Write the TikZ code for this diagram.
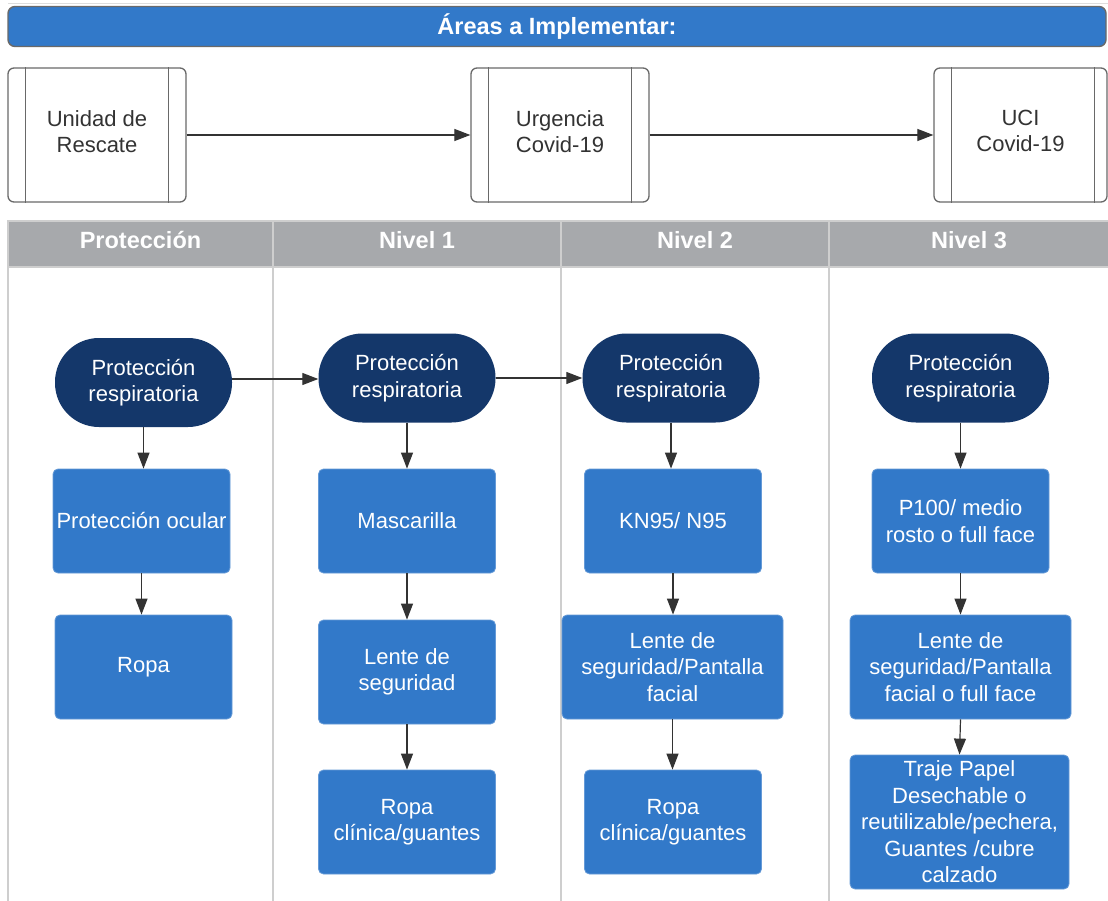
\documentclass[tikz,border=0pt]{standalone}
\usepackage{fontspec}
\setmainfont{Liberation Sans}
\usetikzlibrary{arrows.meta,calc}
\definecolor{boxblue}{RGB}{50,121,201}
\definecolor{navy}{RGB}{20,55,106}
\definecolor{hdrgray}{RGB}{167,169,172}
\definecolor{lanegray}{RGB}{206,206,206}
\definecolor{edgegray}{RGB}{105,105,105}
\definecolor{arrowgray}{RGB}{51,51,51}
\definecolor{proctext}{RGB}{51,51,51}
\begin{document}
\begin{tikzpicture}[x=1pt,y=-1pt,
  body/.style={font=\fontsize{22}{26.5}\selectfont, align=center, text=white},
  bluebox/.style={body, rectangle, rounded corners=5pt, fill=boxblue, draw=boxblue!75!white, line width=0.8pt, minimum width=177pt, minimum height=104pt, inner sep=0pt},
  term/.style={body, rectangle, rounded corners=44pt, fill=navy, minimum width=177pt, minimum height=89pt, inner sep=0pt},
  proc/.style={font=\fontsize{22}{26}\selectfont, align=center, text=proctext, rectangle, rounded corners=6pt, draw=edgegray, line width=1.3pt, minimum width=178pt, minimum height=134pt, inner sep=0pt},
  hdr/.style={font=\bfseries\fontsize{23.5}{28}\selectfont, text=white},
  flow/.style={draw=arrowgray, line width=1.2pt, -{Triangle[length=16pt,width=12pt]}},
  inner/.style={draw=edgegray, line width=1.3pt},
  lane/.style={draw=lanegray, line width=2pt},
]
\fill[white] (0,0) rectangle (1108,901);
\useasboundingbox (0,0) rectangle (1108,901);

% top faint line
\draw[lanegray!70, line width=0.8pt] (8,3) -- (1108,3);

% title bar
\node[rectangle, rounded corners=7pt, fill=boxblue, draw=edgegray, line width=1.4pt,
      minimum width=1098pt, minimum height=40pt, inner sep=0pt,
      font=\bfseries\fontsize{23.5}{28}\selectfont, text=white] (title) at (557,26.5) {Áreas a Implementar:};

% process boxes
\node[proc] (p1) at (97,135) {Unidad de\\Rescate\strut};
\node[proc] (p2) at (560,135) {Urgencia\\Covid-19\strut};
\node[proc, minimum width=173pt] (p3) at (1020.5,135) {UCI\\Covid-19\strut};
\foreach \p in {p1,p2}{
  \draw[inner] ($(\p.north west)+(18,0)$) -- ($(\p.south west)+(18,0)$);
  \draw[inner] ($(\p.north east)+(-18,0)$) -- ($(\p.south east)+(-18,0)$);
}
\draw[inner] ($(p3.north west)+(18,0)$) -- ($(p3.south west)+(18,0)$);
\draw[inner] ($(p3.north east)+(-13,0)$) -- ($(p3.south east)+(-13,0)$);
\draw[flow] (p1.east) -- (p2.west);
\draw[flow] (p2.east) -- (p3.west);

% swimlane table
\fill[hdrgray] (8,221) rectangle (1108,267);
\draw[lane] (7,221) -- (1108,221);
\draw[lane] (7,267) -- (1108,267);
\foreach \x in {8,273,561,829}{
  \draw[lane] (\x,221) -- (\x,901);
}
\node[hdr] (h0) at (140.5,240) {Protección};
\node[hdr] (h1) at (417,240) {Nivel 1};
\node[hdr] (h2) at (695,240) {Nivel 2};
\node[hdr] (h3) at (969,240) {Nivel 3};

% column Protección
\node[term] (t1) at (143.5,382.5) {Protección\\respiratoria};
\node[bluebox] (b11) at (141.5,521) {Protección ocular};
\node[bluebox] (b12) at (143.5,667) {Ropa};

% column Nivel 1
\node[term] (t2) at (407,378) {Protección\\respiratoria};
\node[bluebox] (b21) at (407,521) {Mascarilla};
\node[bluebox] (b22) at (407,672) {Lente de\\seguridad};
\node[bluebox] (b23) at (407,822) {Ropa\\clínica/guantes};

% column Nivel 2
\node[term] (t3) at (671,378) {Protección\\respiratoria};
\node[bluebox] (b31) at (673,521) {KN95/ N95};
\node[bluebox, minimum width=221pt] (b32) at (672.5,667) {Lente de\\seguridad/Pantalla\\facial};
\node[bluebox] (b33) at (673,822) {Ropa\\clínica/guantes};

% column Nivel 3
\node[term] (t4) at (960.5,378) {Protección\\respiratoria};
\node[bluebox] (b41) at (960.5,521) {P100/ medio\\rosto o full face};
\node[bluebox, minimum width=221pt] (b42) at (960.5,667) {Lente de\\seguridad/Pantalla\\facial o full face};
\node[bluebox, minimum width=219pt, minimum height=134pt] (b43) at (959.5,822) {Traje Papel\\Desechable o\\reutilizable/pechera,\\Guantes /cubre\\calzado};

% connectors
\draw[flow] (t1.east |- 0,379) -- (t2.west |- 0,379);
\draw[flow] (t2.east) -- (t3.west);

\draw[flow] (t1.south) -- (t1.south |- b11.north);
\draw[flow] (b11.south) -- (b11.south |- b12.north);

\draw[flow] (t2.south) -- (b21.north);
\draw[flow] (b21.south) -- (b22.north);
\draw[flow] (b22.south) -- (b23.north);

\draw[flow] (t3.south) -- (t3.south |- b31.north);
\draw[flow] (b31.south) -- (b31.south |- b32.north);
\draw[flow] (b32.south) -- (b32.south |- b33.north);

\draw[flow] (t4.south) -- (b41.north);
\draw[flow] (b41.south) -- (b42.north);
\draw[flow] (b42.south) -- (b43.north);
\end{tikzpicture}
\end{document}
